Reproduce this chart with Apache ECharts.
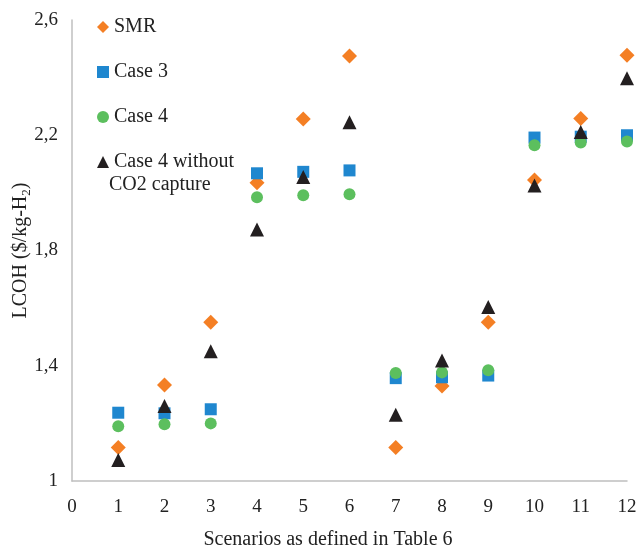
<!DOCTYPE html>
<html>
<head>
<meta charset="utf-8">
<script src="https://cdn.jsdelivr.net/npm/echarts@6/dist/echarts.min.js"></script>
<style>
  html, body { margin: 0; padding: 0; background: #fff; }
  #chart { width: 641px; height: 548px; }
</style>
</head>
<body>
<div id="chart"></div>
<script>
// scenarios 1..12
var scenarios = [1, 2, 3, 4, 5, 6, 7, 8, 9, 10, 11, 12];

// LCOH values
var smr      = [1.116, 1.333, 1.551, 2.035, 2.256, 2.475, 1.116, 1.330, 1.551, 2.045, 2.258, 2.478];
var case3    = [1.237, 1.235, 1.249, 2.068, 2.073, 2.078, 1.357, 1.360, 1.366, 2.192, 2.195, 2.200];
var case4    = [1.190, 1.197, 1.200, 1.985, 1.992, 1.995, 1.375, 1.377, 1.384, 2.165, 2.175, 2.178];
var case4NoC = [1.073, 1.260, 1.450, 1.873, 2.055, 2.245, 1.230, 1.418, 1.604, 2.026, 2.211, 2.398];

var seriesNames = ['SMR', 'Case 3', 'Case 4', 'Case 4 without\nCO2 capture'];

var font = "'Liberation Serif', 'Times New Roman', serif";

function pairs(vals) {
  return scenarios.map(function (s, i) { return [s, vals[i]]; });
}

var chart = echarts.init(document.getElementById('chart'));
chart.setOption({
  animation: false,
  textStyle: { fontFamily: font },
  grid: { left: 72, right: 14, top: 20, bottom: 67, outerBoundsMode: 'none', containLabel: false },
  // second line of the last legend entry, sits under "Case 4 without"
  title: {
    text: seriesNames[3].split('\n')[1],
    left: 109,
    top: 173,
    padding: 0,
    textStyle: { fontFamily: font, fontSize: 20, fontWeight: 'normal', color: '#222', lineHeight: 24 }
  },
  legend: {
    orient: 'vertical',
    left: 92,
    top: 10,
    itemGap: 21,
    itemWidth: 12,
    itemHeight: 12,
    textStyle: { fontFamily: font, fontSize: 20, color: '#222', lineHeight: 24 },
    formatter: function (name) { return name.split('\n')[0]; },
    data: [
      { name: seriesNames[0], icon: 'diamond' },
      { name: seriesNames[1], icon: 'rect' },
      { name: seriesNames[2], icon: 'circle' },
      { name: seriesNames[3], icon: 'triangle' }
    ]
  },
  xAxis: {
    type: 'value',
    min: 0,
    max: 12,
    interval: 1,
    name: 'Scenarios as defined in Table 6',
    nameLocation: 'middle',
    nameGap: 49,
    nameMoveOverlap: false,
    nameTextStyle: { fontFamily: font, fontSize: 20, color: '#222', padding: [0, 43, 0, 0] },
    axisLine: { show: true, lineStyle: { color: '#bfbfbf', width: 1.5 } },
    axisTick: { show: false },
    splitLine: { show: false },
    axisLabel: { fontFamily: font, fontSize: 19, color: '#222', margin: 17 }
  },
  yAxis: {
    type: 'value',
    min: 1,
    max: 2.6,
    interval: 0.4,
    name: '{a|LCOH ($/kg-H}{sub|2}{a|)}',
    nameLocation: 'middle',
    nameGap: 39,
    nameMoveOverlap: false,
    nameTextStyle: {
      fontFamily: font,
      fontSize: 20,
      color: '#222',
      rich: {
        a: { fontFamily: font, fontSize: 20, color: '#222', lineHeight: 24 },
        sub: { fontFamily: font, fontSize: 13, color: '#222', verticalAlign: 'bottom', lineHeight: 16 }
      }
    },
    axisLine: { show: true, lineStyle: { color: '#bfbfbf', width: 1.5 } },
    axisTick: { show: false },
    splitLine: { show: false },
    axisLabel: {
      fontFamily: font,
      fontSize: 19,
      color: '#222',
      margin: 14,
      formatter: function (v) {
        return String(Math.round(v * 10) / 10).replace('.', ',');
      }
    }
  },
  series: [
    {
      name: seriesNames[0], type: 'scatter', symbol: 'diamond', symbolSize: 15,
      itemStyle: { color: '#f47f24', opacity: 1 }, data: pairs(smr)
    },
    {
      name: seriesNames[1], type: 'scatter', symbol: 'rect', symbolSize: 12,
      itemStyle: { color: '#1f87cf', opacity: 1 }, data: pairs(case3)
    },
    {
      name: seriesNames[2], type: 'scatter', symbol: 'circle', symbolSize: 12,
      itemStyle: { color: '#5cbf5e', opacity: 1 }, data: pairs(case4)
    },
    {
      name: seriesNames[3], type: 'scatter', symbol: 'triangle', symbolSize: 14,
      itemStyle: { color: '#231f20', opacity: 1 }, data: pairs(case4NoC)
    }
  ]
});
</script>
</body>
</html>
